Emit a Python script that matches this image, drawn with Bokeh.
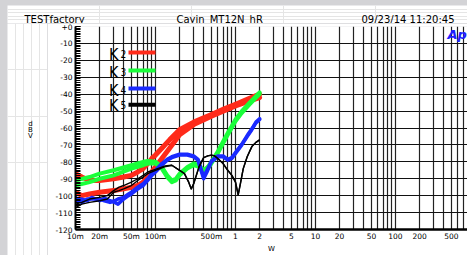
import math
from bokeh.plotting import figure
from bokeh.models import FixedTicker, Label
from bokeh.layouts import column, row
from bokeh.embed import file_html
from bokeh.resources import INLINE

# ---------------- data ----------------
red_f = [0.01, 0.012, 0.015, 0.02, 0.03, 0.04, 0.05, 0.06, 0.07, 0.08, 0.09, 0.1, 0.12, 0.15, 0.2, 0.3, 0.5, 0.7, 1.0, 1.5, 2.0]
red_a = [-87, -89, -91, -91, -90, -89, -88, -86, -84, -81, -78, -76, -72, -67, -61, -56.5, -52, -49, -46, -42.5, -40]
red_b = [-98, -100, -99, -98, -97, -96, -95, -94, -92, -89, -86, -83, -78, -72, -64, -58, -53, -50, -47, -44, -42]

green_f = [0.01, 0.015, 0.02, 0.03, 0.05, 0.07, 0.08, 0.1, 0.12, 0.14, 0.16, 0.18, 0.2, 0.25, 0.3, 0.35, 0.4, 0.45, 0.5, 0.6, 0.7, 0.8, 1.0, 1.2, 1.5, 2.0]
green_a = [-91, -89, -87, -85, -82, -80, -79.5, -80, -83, -88, -91, -90, -87, -83, -81, -82, -85, -83, -80, -74, -68, -63, -55, -50, -45, -39]
green_b = [-94, -92, -90, -88, -84, -82, -81, -81, -84, -89, -92, -91, -88, -84, -82, -83, -86, -84, -81, -75, -69, -64, -56, -51, -46, -40]

blue_f = [0.01, 0.012, 0.014, 0.016, 0.02, 0.023, 0.027, 0.031, 0.034, 0.04, 0.046, 0.05, 0.06, 0.07, 0.08, 0.09, 0.1, 0.12, 0.14, 0.16, 0.2, 0.25, 0.3, 0.34, 0.37, 0.4, 0.44, 0.5, 0.6, 0.7, 0.8, 0.9, 1.0, 1.2, 1.4, 1.6, 1.8, 2.0]
blue_a = [-103, -102, -103, -101, -103, -101.5, -103, -104, -105, -102, -100, -99, -96, -94, -91, -88, -86, -82, -79, -77.5, -76, -76, -77, -79, -85, -90, -86, -80, -77, -77, -79, -78, -75, -70, -65, -61, -57, -55]
blue_b = [-101, -104, -102, -102, -102, -103, -104, -103, -102, -101, -99, -98, -95, -93, -90, -87, -85, -81, -78.5, -77, -75.5, -75.5, -76.5, -78.5, -84, -89, -85, -79.5, -76.5, -76.5, -78.5, -77.5, -74.5, -69.5, -64.5, -60.5, -56.5, -54.5]

black_f = [0.01, 0.012, 0.015, 0.02, 0.025, 0.03, 0.035, 0.04, 0.05, 0.06, 0.07, 0.08, 0.1, 0.13, 0.16, 0.2, 0.23, 0.26, 0.28, 0.3, 0.35, 0.4, 0.45, 0.5, 0.55, 0.6, 0.7, 0.8, 0.9, 1.0, 1.08, 1.15, 1.25, 1.4, 1.6, 1.8, 2.0]
black_a = [-107, -105, -104, -103, -102, -98, -97, -96, -94, -91, -89, -87, -85, -83, -82, -85, -87, -92, -96, -93, -83, -77.5, -76.5, -76, -76.5, -78, -81, -85, -88, -92, -99.5, -93, -84, -77, -71, -68.5, -67]
black_b = [-105, -104, -102, -101, -100, -97, -95, -94, -92, -90, -88, -86, -84.5, -82.5, -82, -85, -87, -92, -96, -93, -83, -77.5, -76.5, -76, -76.5, -78, -81, -85, -88, -92, -99.5, -93, -84, -77, -71, -68.5, -67]

x_ticks = [0.01, 0.02, 0.05, 0.1, 0.5, 1.0, 2.0, 5.0, 10.0, 20.0, 50.0, 100.0, 200.0, 500.0]
x_labels = ["10m", "20m", "50m", "100m", "500m", "1", "2", "5", "10", "20", "50", "100", "200", "500"]
y_ticks = [0, -10, -20, -30, -40, -50, -60, -70, -80, -90, -100, -110, -120]
y_labels = ["+0", "-10", "-20", "-30", "-40", "-50", "-60", "-70", "-80", "-90", "-100", "-110", "-120"]
legend_names = ["K", "K", "K", "K"]
legend_subs = ["2", "3", "4", "5"]
legend_colors = ["#ff2a1a", "#1aff3a", "#1a2aff", "#000000"]
header_texts = ["TESTfactory", "Cayin_MT12N_hR", "09/23/14 11:20:45"]
x_title = "W"
y_title = ["d", "B", "V"]

# ---------------- layout constants (page pixels) ----------------
PAD_L, PAD_T = 7, 5            # grey strip on the left / top
PAGE_W, PAGE_H = 467, 255
HEAD_H = 18                     # header strip height
LEFT_W = 40                     # strip for the stacked y title
FR_L, FR_T, FR_B, FR_R = 75, 26, 232, 467   # frame edges (page px)

MAIN_X0 = PAD_L + LEFT_W
MAIN_Y0 = PAD_T + HEAD_H
MAIN_W = PAGE_W - MAIN_X0
MAIN_H = PAGE_H - MAIN_Y0
ML = FR_L - MAIN_X0
MT = FR_T - MAIN_Y0
MB = PAGE_H - FR_B
FW = FR_R - FR_L
FH = FR_B - FR_T
X0 = 0.01
DEC_PX = 80.0
X1 = 10 ** (math.log10(X0) + FW / DEC_PX)


def blank_fig(w, h):
    f = figure(width=w, height=h, output_backend="svg", toolbar_location=None,
               x_axis_location=None, y_axis_location=None,
               min_border=0, min_border_left=0, min_border_right=0, min_border_top=0, min_border_bottom=0,
               x_range=(0, 1), y_range=(0, 1), frame_align=False)
    f.outline_line_color = None
    f.background_fill_color = "white"
    f.border_fill_color = "white"
    return f


# ---------------- main plot ----------------
p = figure(width=MAIN_W, height=MAIN_H, x_axis_type="log", x_range=(X0, X1), y_range=(-120, 0),
           output_backend="svg", toolbar_location=None, title=None, frame_align=False,
           min_border_left=ML, min_border_right=0, min_border_top=MT, min_border_bottom=MB)
p.background_fill_color = "white"
p.border_fill_color = "white"
p.outline_line_color = None

grid_x = []
for e in range(-2, 3):
    for k in range(1, 10):
        v = k * 10 ** e
        if v <= X1:
            grid_x.append(v)
p.xgrid.ticker = FixedTicker(ticks=grid_x)
p.xgrid.grid_line_color = "#222222"
p.xgrid.grid_line_width = 1.2
p.ygrid.ticker = FixedTicker(ticks=y_ticks)
p.ygrid.grid_line_color = "#111111"
p.ygrid.grid_line_width = 1.2

xa = p.xaxis[0]
xa.ticker = FixedTicker(ticks=x_ticks)
xa.major_label_overrides = {t: l for t, l in zip(x_ticks, x_labels)}
xa.major_tick_in = 0
xa.major_tick_out = 0
xa.minor_tick_in = 0
xa.minor_tick_out = 0
xa.axis_line_width = 2.5
xa.axis_line_color = "black"
xa.major_label_text_font = "DejaVu Sans"
xa.major_label_text_font_size = "7.5px"
xa.major_label_text_color = "black"
xa.major_label_standoff = 2
xa.axis_label = x_title
xa.axis_label_text_font = "DejaVu Sans"
xa.axis_label_text_font_size = "7px"
xa.axis_label_text_font_style = "normal"
xa.axis_label_text_color = "black"
xa.axis_label_standoff = 1

ya = p.yaxis[0]
ya.ticker = FixedTicker(ticks=y_ticks, minor_ticks=list(range(-120, 1)))
ya.major_label_overrides = {t: l for t, l in zip(y_ticks, y_labels)}
ya.major_tick_in = 5
ya.major_tick_out = 0
ya.minor_tick_in = 5
ya.minor_tick_out = 0
ya.major_tick_line_color = "black"
ya.minor_tick_line_color = "black"
ya.axis_line_width = 2
ya.axis_line_color = "black"
ya.major_label_text_font = "DejaVu Sans"
ya.major_label_text_font_size = "7.5px"
ya.major_label_text_color = "black"
ya.major_label_standoff = 3

# traces (red at the bottom, black on top)
p.line(red_f, red_a, line_color=legend_colors[0], line_width=5, line_join="round", line_cap="round")
p.line(red_f, red_b, line_color=legend_colors[0], line_width=5, line_join="round", line_cap="round")
p.line(green_f, green_a, line_color=legend_colors[1], line_width=4, line_join="round", line_cap="round")
p.line(green_f, green_b, line_color=legend_colors[1], line_width=4, line_join="round", line_cap="round")
p.line(blue_f, blue_a, line_color=legend_colors[2], line_width=3.5, line_join="round", line_cap="round")
p.line(blue_f, blue_b, line_color=legend_colors[2], line_width=3.5, line_join="round", line_cap="round")
p.line(black_f, black_a, line_color=legend_colors[3], line_width=1.4, line_join="round")
p.line(black_f, black_b, line_color=legend_colors[3], line_width=1.4, line_join="round")


def fx(a):
    return 10 ** (math.log10(X0) + (a - FR_L) / DEC_PX)


def dy(a):
    return -120 * (a - FR_T) / FH


def add_text(fig, text, sx, sy, size, font="DejaVu Sans", color="black", style="normal",
             align="left", baseline="alphabetic"):
    fig.add_layout(Label(x=sx, y=sy, x_units="screen", y_units="screen", text=text,
                         text_font=font, text_font_size=size, text_color=color,
                         text_font_style=style, text_align=align, text_baseline=baseline))


# legend inside the frame (screen units relative to frame bottom-left)
leg_line_y = [52.3, 70.7, 89, 105.3]
leg_base_y = [56.7, 75, 93.3, 108.3]
kfont = "Liberation Sans Narrow, DejaVu Sans Condensed, Liberation Sans, sans-serif"
for name, sub, col, lyy, by in zip(legend_names, legend_subs, legend_colors, leg_line_y, leg_base_y):
    add_text(p, name, 108.5 - FR_L, FR_B - by, "16px", font=kfont)
    add_text(p, sub, 120 - FR_L, FR_B - by + 0.5, "10px", font=kfont)
    p.line([fx(128), fx(155)], [dy(lyy), dy(lyy)], line_color=col, line_width=4)

add_text(p, "Ap", 447 - FR_L, FR_B - 37, "13px", color="#1f1fff", style="bold italic")

# ---------------- header strip ----------------
head = blank_fig(PAGE_W - PAD_L, HEAD_H)
head_x = [24, 176, 361]
for t, hx in zip(header_texts, head_x):
    add_text(head, t, hx - PAD_L, MAIN_Y0 - 18.5, "10px")

# ---------------- left strip with stacked y title ----------------
left = blank_fig(LEFT_W, MAIN_H)
for t, yy in zip(y_title, [123.5, 129.5, 135.5]):
    add_text(left, t, 30 - PAD_L, PAGE_H - yy, "7px", align="center", baseline="middle")

layout = column(head, row(left, p, spacing=0), spacing=0)

html = file_html(layout, INLINE)
html = html.replace("<head>", "<head><style>html,body{background:#d3d3d6 !important;overflow:hidden;margin:0 !important;}"
                    "body{padding:%dpx 0 0 %dpx !important;box-sizing:border-box;}</style>" % (PAD_T, PAD_L), 1)
open("out.html", "w").write(html)
